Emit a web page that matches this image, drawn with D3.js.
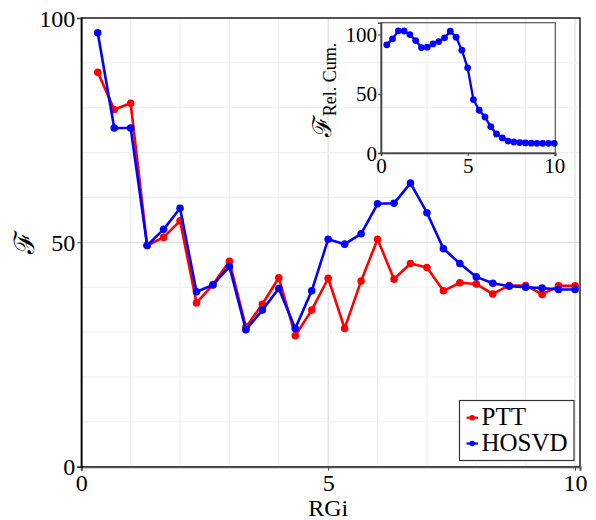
<!DOCTYPE html>
<html>
<head>
<meta charset="utf-8">
<script src="https://cdn.jsdelivr.net/npm/d3@7"></script>
</head>
<body style="margin:0">
<svg id="chart" width="596" height="520" font-family="Liberation Serif"></svg>
<script>
// RGi sample positions (thirds from 1/3 to 10)
const rgi = d3.range(1, 31).map(i => i / 3);

// Fidelity per method
const ptt = [87.9, 79.6, 81.0, 49.3, 51.1, 54.8, 36.5, 40.6, 45.8, 31.1,
             36.2, 42.1, 29.2, 34.9, 42.0, 30.8, 41.4, 50.7, 41.8, 45.3,
             44.4, 39.2, 41.0, 40.7, 38.5, 40.4, 40.4, 38.4, 40.3, 40.3];
const hosvd = [96.7, 75.5, 75.5, 49.3, 52.9, 57.6, 39.0, 40.5, 44.6, 30.5,
               34.9, 39.7, 30.8, 39.2, 50.7, 49.6, 51.9, 58.6, 58.7, 63.2,
               56.6, 48.6, 45.3, 42.3, 40.9, 40.2, 40.0, 39.8, 39.5, 39.5];

// Relative cumulative fidelity (inset)
const relCum = [91.3, 96.4, 103.1, 103.0, 100.0, 94.9, 89.0, 89.3, 92.1, 94.1,
                97.2, 102.8, 97.8, 86.8, 71.9, 45.1, 36.1, 30.4, 22.3, 16.1,
                12.7, 10.1, 9.3, 8.8, 8.5, 8.3, 8.2, 8.2, 8.2, 8.2];

const mainTicksX = [0, 5, 10];
const mainTicksY = [0, 50, 100];
const insetTicksX = [0, 5, 10];
const insetTicksY = [0, 50, 100];

const seriesNames = ["PTT", "HOSVD"];
const seriesColors = ["#ff0000", "#0000ff"];

const SERIF = "Liberation Serif";

const svg = d3.select("#chart");

// every label is set in the serif face
function serifText(sel, size) {
  return sel.attr("font-family", SERIF)
    .style("font-family", `"${SERIF}"`)
    .style("font-size", size + "px")
    .attr("fill", "#000");
}

// ---------- main panel ----------
const x = d3.scaleLinear().domain([0, 10.1]).range([81.3, 580]);
const y = d3.scaleLinear().domain([0, 100]).range([466.7, 18]);

const grid = svg.append("g");
grid.selectAll("line.gx").data(d3.range(1, 11)).join("line")
  .attr("x1", d => x(d)).attr("x2", d => x(d))
  .attr("y1", y(0)).attr("y2", y(100))
  .attr("stroke", d => d % 5 === 0 ? "#dadada" : "#eeeeee").attr("stroke-width", 1);
grid.selectAll("line.gy").data(d3.range(10, 101, 10)).join("line")
  .attr("x1", x(0)).attr("x2", x(10.1))
  .attr("y1", d => y(d)).attr("y2", d => y(d))
  .attr("stroke", d => d % 50 === 0 ? "#dadada" : "#eeeeee").attr("stroke-width", 1);

// frame
svg.append("rect")
  .attr("x", x(0)).attr("y", y(100))
  .attr("width", x(10.1) - x(0)).attr("height", y(0) - y(100))
  .attr("fill", "none").attr("stroke", "#000").attr("stroke-width", 1.3);

const xAxis = svg.append("g").attr("transform", `translate(0,${y(0)})`)
  .call(d3.axisBottom(x).tickValues(mainTicksX).tickSize(4).tickPadding(3).tickFormat(d3.format("d")));
xAxis.attr("font-family", SERIF);
xAxis.select(".domain").attr("stroke", "#555").attr("stroke-width", 2);
xAxis.selectAll(".tick line").attr("stroke", "#444");
serifText(xAxis.selectAll("text"), 24);

const yAxis = svg.append("g").attr("transform", `translate(${x(0)},0)`)
  .call(d3.axisLeft(y).tickValues(mainTicksY).tickSize(4).tickPadding(2).tickFormat(d3.format("d")));
yAxis.attr("font-family", SERIF);
yAxis.select(".domain").attr("stroke", "#000").attr("stroke-width", 1.6);
yAxis.selectAll(".tick line").attr("stroke", "#444");
serifText(yAxis.selectAll("text"), 24).attr("dy", "0.34em");

serifText(svg.append("text"), 24)
  .attr("x", x(5)).attr("y", 516)
  .attr("text-anchor", "middle").text("RGi");

serifText(svg.append("text"), 28)
  .attr("transform", `translate(34,242) rotate(-90)`)
  .attr("text-anchor", "middle")
  .text("ℱ");

const line = d3.line().x((d, i) => x(rgi[i])).y(d => y(d));
[ptt, hosvd].forEach((vals, k) => {
  const g = svg.append("g");
  g.append("path").datum(vals).attr("d", line)
    .attr("fill", "none").attr("stroke", seriesColors[k])
    .attr("stroke-width", 2.6).attr("stroke-linejoin", "round");
  g.selectAll("circle").data(vals).join("circle")
    .attr("cx", (d, i) => x(rgi[i])).attr("cy", d => y(d))
    .attr("r", 3.8).attr("fill", seriesColors[k]);
});

// legend
const lg = svg.append("g");
lg.append("rect").attr("x", 459.5).attr("y", 400.5).attr("width", 114.5).attr("height", 60)
  .attr("fill", "#fff").attr("stroke", "#333").attr("stroke-width", 1.2);
seriesNames.forEach((name, k) => {
  const cy = 417.7 + k * 25.8;
  lg.append("line").attr("x1", 466.5).attr("x2", 478).attr("y1", cy).attr("y2", cy)
    .attr("stroke", seriesColors[k]).attr("stroke-width", 2.2);
  lg.append("circle").attr("cx", 472.2).attr("cy", cy).attr("r", 2.8).attr("fill", seriesColors[k]);
  serifText(lg.append("text"), 25).attr("x", 481.5).attr("y", cy + 7.5).text(name);
});

// ---------- inset panel ----------
const xi = d3.scaleLinear().domain([0, 10.06]).range([381, 555.3]);
const yi = d3.scaleLinear().domain([0, 110]).range([153, 22.7]);

svg.append("rect")
  .attr("x", xi(0)).attr("y", yi(110))
  .attr("width", xi(10.06) - xi(0)).attr("height", yi(0) - yi(110))
  .attr("fill", "none").attr("stroke", "#555").attr("stroke-width", 1.2);

const xiAxis = svg.append("g").attr("transform", `translate(0,${yi(0)})`)
  .call(d3.axisBottom(xi).tickValues(insetTicksX).tickSize(3).tickPadding(2).tickFormat(d3.format("d")));
xiAxis.attr("font-family", SERIF);
xiAxis.select(".domain").attr("stroke", "#444").attr("stroke-width", 1.6);
xiAxis.selectAll(".tick line").attr("stroke", "#444");
serifText(xiAxis.selectAll("text"), 21);

const yiAxis = svg.append("g").attr("transform", `translate(${xi(0)},0)`)
  .call(d3.axisLeft(yi).tickValues(insetTicksY).tickSize(3).tickPadding(1).tickFormat(d3.format("d")));
yiAxis.attr("font-family", SERIF);
yiAxis.select(".domain").attr("stroke", "#444").attr("stroke-width", 1.6);
yiAxis.selectAll(".tick line").attr("stroke", "#444");
serifText(yiAxis.selectAll("text"), 21).attr("dy", "0.34em");

const ilab = serifText(svg.append("text"), 18)
  .attr("transform", `translate(331,90) rotate(-90)`)
  .attr("text-anchor", "middle");
ilab.append("tspan").style("font-size", "26px").text("ℱ");
ilab.append("tspan").attr("dy", 5).style("font-size", "18px").text("Rel. Cum.");

const iline = d3.line().x((d, i) => xi(rgi[i])).y(d => yi(d));
svg.append("path").datum(relCum).attr("d", iline)
  .attr("fill", "none").attr("stroke", seriesColors[1])
  .attr("stroke-width", 2.3).attr("stroke-linejoin", "round");
svg.append("g").selectAll("circle").data(relCum).join("circle")
  .attr("cx", (d, i) => xi(rgi[i])).attr("cy", d => yi(d))
  .attr("r", 3.4).attr("fill", seriesColors[1]);
</script>
</body>
</html>
